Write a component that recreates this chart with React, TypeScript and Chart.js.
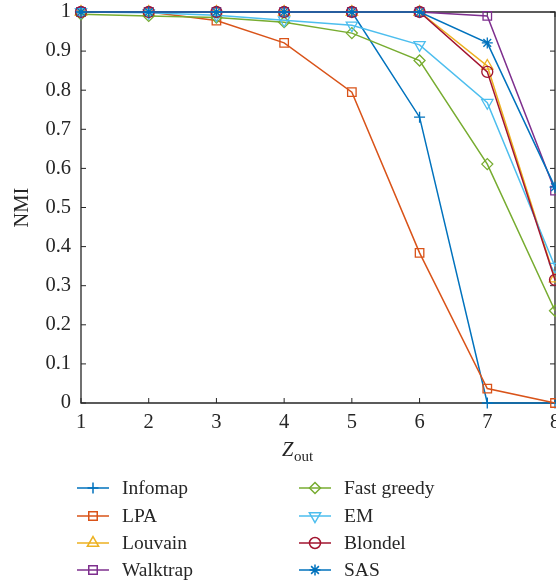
import { useEffect, useRef } from "react";
import { Chart, registerables } from "chart.js";
import { drawPoint } from "chart.js/helpers";

Chart.register(...registerables);

const zOut = ["1", "2", "3", "4", "5", "6", "7", "8"];
const infomap = [1, 1, 1, 1, 1, 0.731, 0, 0];
const lpa = [1, 1, 0.978, 0.921, 0.795, 0.384, 0.037, 0];
const louvain = [1, 1, 1, 1, 1, 1, 0.862, 0.318];
const walktrap = [1, 1, 1, 1, 1, 1, 0.99, 0.543];
const fastGreedy = [0.994, 0.99, 0.986, 0.974, 0.946, 0.876, 0.611, 0.236];
const em = [1, 0.998, 0.992, 0.979, 0.966, 0.916, 0.768, 0.349];
const blondel = [1, 1, 1, 1, 1, 1, 0.847, 0.315];
const sas = [1, 1, 1, 1, 1, 1, 0.921, 0.552];
const yTickLabels = ["0", "0.1", "0.2", "0.3", "0.4", "0.5", "0.6", "0.7", "0.8", "0.9", "1"];
const seriesNames = ["Infomap", "LPA", "Louvain", "Walktrap", "Fast greedy", "EM", "Blondel", "SAS"];
const seriesValues = [infomap, lpa, louvain, walktrap, fastGreedy, em, blondel, sas];
const seriesColors = ["#0072BD", "#D95319", "#EDB120", "#7E2F8E", "#77AC30", "#4DBEEE", "#A2142F", "#0072BD"];
const seriesMarkers = ["cross", "rect", "triangle", "rect", "rectRot", "triangle", "circle", "star"];
const seriesRotation = [0, 0, 0, 0, 0, 180, 0, 0];
const seriesRadius = [5.5, 6, 6.5, 6, 5.5, 6.5, 5.5, 5.5];

const FONT = "'Liberation Serif', 'Times New Roman', serif";
const INK = "#262626";

const frameTicks = {
  id: "frameTicks",
  beforeDatasetsDraw(chart: any) {
    const { ctx, chartArea } = chart;
    const { left, right, top, bottom } = chartArea;
    const xs = chart.scales.x;
    const ys = chart.scales.y;
    ctx.save();
    ctx.strokeStyle = INK;
    ctx.lineWidth = 1.3;
    ctx.beginPath();
    ctx.moveTo(left, top);
    ctx.lineTo(right, top);
    ctx.lineTo(right, bottom);
    ctx.lineTo(left, bottom);
    ctx.closePath();
    ctx.stroke();
    ctx.lineWidth = 1;
    ctx.beginPath();
    for (let i = 0; i < zOut.length; i++) {
      const px = xs.getPixelForValue(i);
      ctx.moveTo(px, bottom);
      ctx.lineTo(px, bottom - 5);
      ctx.moveTo(px, top);
      ctx.lineTo(px, top + 5);
    }
    for (let i = 0; i < yTickLabels.length; i++) {
      const py = ys.getPixelForValue(parseFloat(yTickLabels[i]));
      ctx.moveTo(left, py);
      ctx.lineTo(left + 5, py);
      ctx.moveTo(right, py);
      ctx.lineTo(right - 5, py);
    }
    ctx.stroke();
    ctx.restore();
  },
};

const xTitleAndLegend = {
  id: "xTitleAndLegend",
  afterDraw(chart: any) {
    const { ctx } = chart;
    ctx.save();
    ctx.fillStyle = INK;
    ctx.textBaseline = "alphabetic";
    // x axis title: Z with subscript "out"
    ctx.font = `italic 20.5px ${FONT}`;
    const zW = ctx.measureText("Z").width;
    const x0 = 282;
    ctx.fillText("Z", x0, 456);
    ctx.font = `15px ${FONT}`;
    ctx.fillText("out", x0 + zW + 0.5, 461);

    // legend
    const colLine = [77, 299];
    const colText = [122, 344];
    const rowY = [488, 516, 543, 570];
    ctx.font = `19.5px ${FONT}`;
    ctx.textBaseline = "middle";
    chart.data.datasets.forEach((ds: any, i: number) => {
      const col = i < 4 ? 0 : 1;
      const y = rowY[i % 4];
      const lx = colLine[col];
      ctx.strokeStyle = ds.borderColor;
      ctx.lineWidth = 1.5;
      ctx.beginPath();
      ctx.moveTo(lx, y);
      ctx.lineTo(lx + 32, y);
      ctx.stroke();
      ctx.fillStyle = "rgba(0,0,0,0)";
      drawPoint(
        ctx,
        {
          pointStyle: ds.pointStyle,
          rotation: ds.pointRotation,
          radius: ds.pointRadius,
          borderWidth: 1.3,
        },
        lx + 16,
        y
      );
      ctx.fillStyle = INK;
      ctx.fillText(ds.label, colText[col], y + 1);
    });
    ctx.restore();
  },
};

export default function App() {
  const ref = useRef<HTMLCanvasElement | null>(null);

  useEffect(() => {
    document.body.style.margin = "0";
    document.body.style.overflow = "hidden";
    Chart.defaults.font.family = FONT;
    Chart.defaults.color = INK;
    const canvas = ref.current!;
    const chart = new Chart(canvas, {
      type: "line",
      data: {
        labels: zOut,
        datasets: seriesValues.map((vals, i) => ({
          label: seriesNames[i],
          data: vals,
          borderColor: seriesColors[i],
          backgroundColor: "rgba(0,0,0,0)",
          pointBorderColor: seriesColors[i],
          pointBackgroundColor: "rgba(0,0,0,0)",
          pointStyle: seriesMarkers[i] as any,
          pointRotation: seriesRotation[i],
          pointRadius: seriesRadius[i],
          pointBorderWidth: 1.3,
          borderWidth: 1.5,
          tension: 0,
          fill: false,
          clip: false as any,
          order: seriesValues.length - 1 - i,
        })),
      },
      options: {
        animation: false,
        responsive: false,
        devicePixelRatio: 1,
        layout: { padding: { left: 0, top: 12, right: 20, bottom: 0 } },
        plugins: {
          legend: { display: false },
          tooltip: { enabled: false },
        },
        scales: {
          x: {
            type: "category",
            offset: false,
            grid: { display: false, drawTicks: false },
            border: { display: false },
            ticks: {
              autoSkip: false,
              maxRotation: 0,
              padding: 7,
              font: { size: 20.5 },
              color: INK,
            },
            afterFit(scale: any) {
              scale.height = 183;
              scale.paddingLeft = 0;
              scale.paddingRight = 0;
            },
          },
          y: {
            type: "linear",
            min: 0,
            max: 1,
            grid: { display: false, drawTicks: false },
            border: { display: false },
            ticks: {
              stepSize: 0.1,
              padding: 10,
              font: { size: 20.5 },
              color: INK,
              callback: (v: any) => {
                const idx = Math.round(Number(v) * 10);
                return yTickLabels[idx] ?? "";
              },
            },
            title: {
              display: true,
              text: "NMI",
              font: { size: 20.5 },
              color: INK,
              padding: { top: 10, bottom: 0 },
            },
            afterFit(scale: any) {
              scale.width = 81;
              scale.paddingTop = 0;
              scale.paddingBottom = 0;
            },
          },
        },
      },
      plugins: [frameTicks, xTitleAndLegend],
    });
    return () => chart.destroy();
  }, []);

  return (
    <div style={{ width: 556, height: 586, overflow: "hidden", position: "relative" }}>
      <canvas ref={ref} width={575} height={586} style={{ display: "block", width: 575, height: 586 }} />
    </div>
  );
}
